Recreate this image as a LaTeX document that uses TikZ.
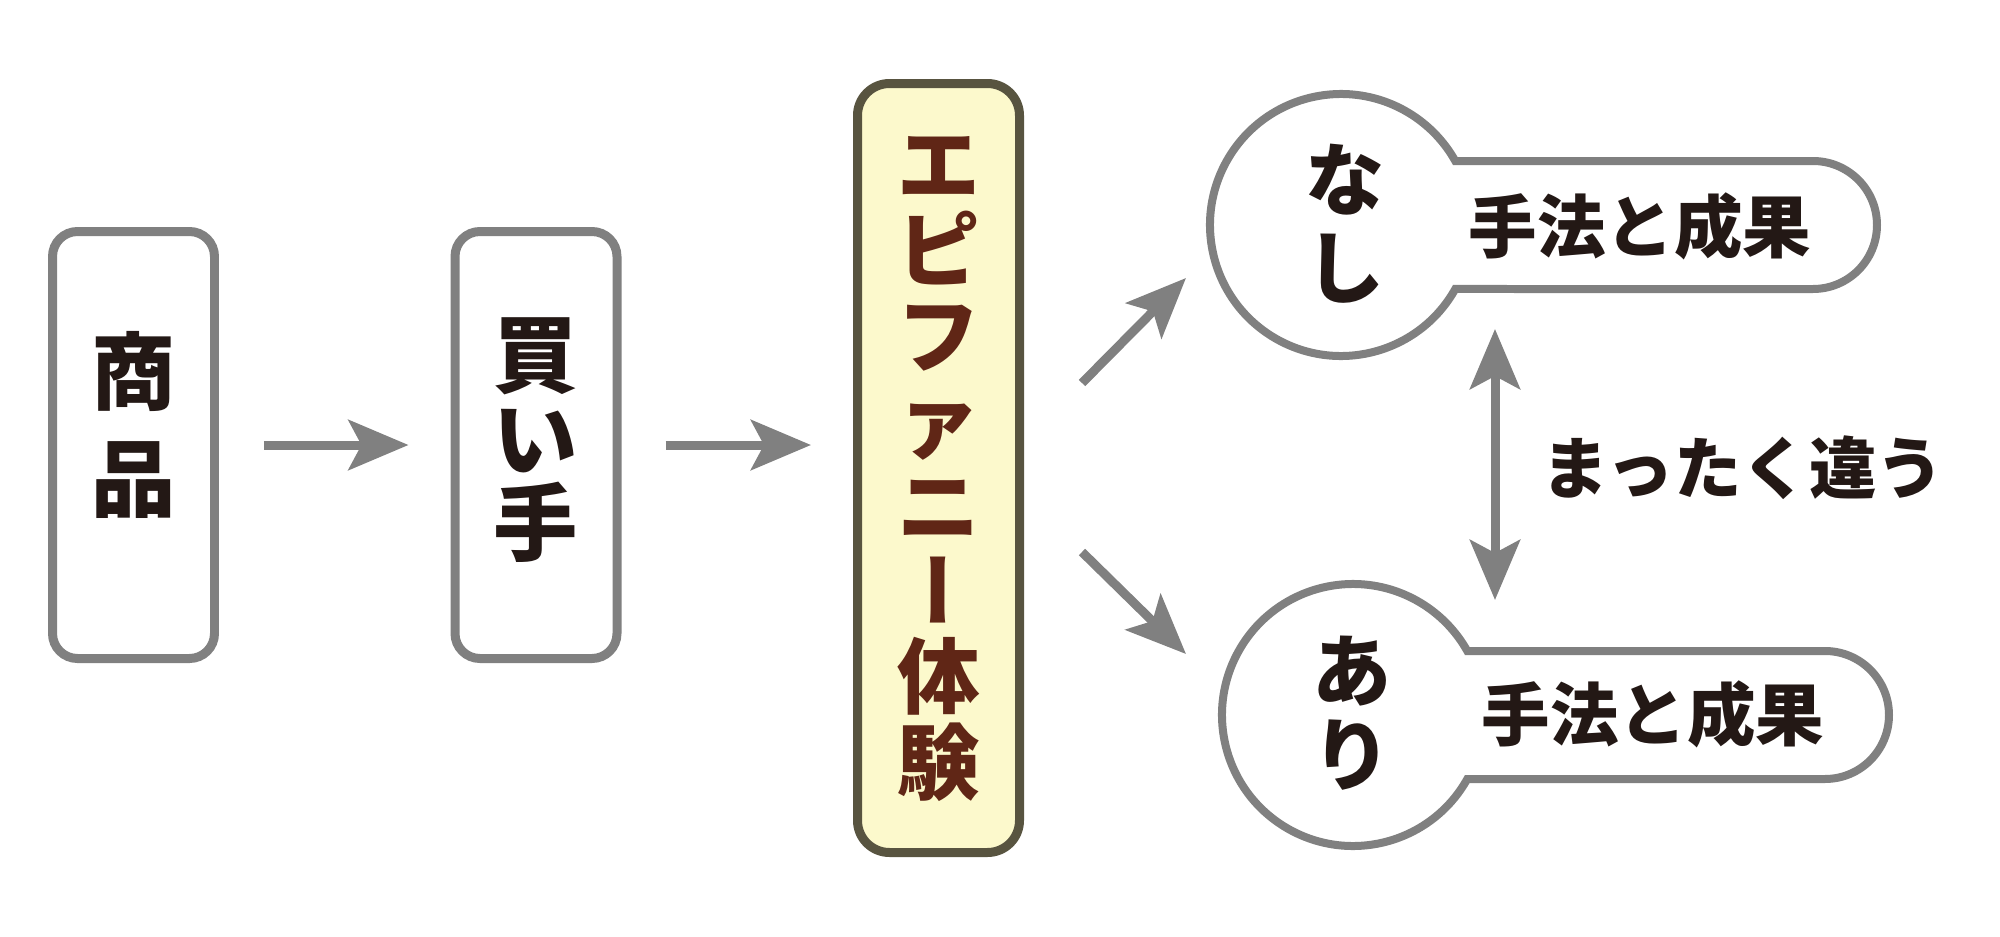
\documentclass[tikz,border=0pt]{standalone}
\usepackage{fontspec}
\newfontfamily\jpfont{Noto Sans CJK JP}
\newfontfamily\jpvfont[RawFeature=+vert]{Noto Sans CJK JP}
\usepackage{tikz}
\usetikzlibrary{arrows.meta, calc, positioning}
\definecolor{linegray}{RGB}{128,128,128}
\definecolor{inkblack}{RGB}{35,24,21}
\definecolor{epibrown}{RGB}{96,38,22}
\definecolor{epifill}{RGB}{252,249,204}
\definecolor{epiedge}{RGB}{88,84,64}

\tikzset{
	stage/.style={draw=linegray, line width=0.9mm, fill=white, rounded corners=2.5mm, minimum width=16.2mm, minimum height=42.7mm, inner sep=0pt},
	epibox/.style={stage, draw=epiedge, fill=epifill, rounded corners=3.2mm, minimum height=76.9mm},
	tate/.style={font=\jpfont\bfseries\fontsize{24pt}{24pt}\selectfont, text=inkblack, align=center, inner sep=0pt},
	yoko/.style={font=\jpfont\bfseries\fontsize{19.5pt}{19.5pt}\selectfont, text=inkblack, inner sep=0pt},
	flow/.style={draw=linegray, line width=0.9mm},
	keyline/.style={draw=linegray, line width=0.8mm, fill=white},
	ring/.style={circle, minimum size=26.2mm, inner sep=0pt}
}

\begin{document}
\begin{tikzpicture}[x=0.1mm, y=0.1mm, >={Stealth[length=6mm, width=5mm, inset=1.3mm]}]
	\useasboundingbox (0,0) rectangle (2000,936);
	
	\pgfmathsetmacro{\ringr}{131}
	\pgfmathsetmacro{\barh}{64}
	\pgfmathsetmacro{\barlen}{472}
	\pgfmathsetmacro{\cutang}{asin(\barh/\ringr)}
	
	\node[stage] (shohin) at (133.5,491) {};
	\node[stage] (kaite) at (536,491) {};
	\node[epibox] (epiphany) at (938.5,468) {};
	
	\node[tate, font=\jpfont\bfseries\fontsize{24pt}{30.4pt}\selectfont] (shohin-t) at (133.5,511) {商\\品};
	\node[tate] (kaite-t) at (536,496) {買\\い\\手};
	\node[tate, text=epibrown, font=\jpfont\bfseries\fontsize{23.5pt}{24.3pt}\selectfont] (epiphany-t) at (938.5,467) {エ\\ピ\\フ\\ァ\\ニ\\{\jpvfont ー}\\体\\験};
	
	\node[ring] (nashi) at (1341,711) {};
	\node[ring] (ari) at (1353,221) {};
	\draw[keyline] ([shift={(\cutang:\ringr)}]nashi.center) -- ([shift={(\barlen,\barh)}]nashi.center) arc[start angle=90, end angle=-90, radius=\barh] -- ([shift={(-\cutang:\ringr)}]nashi.center) arc[start angle=-\cutang, end angle=-360+\cutang, radius=\ringr] -- cycle;
	\draw[keyline] ([shift={(\cutang:\ringr)}]ari.center) -- ([shift={(\barlen,\barh)}]ari.center) arc[start angle=90, end angle=-90, radius=\barh] -- ([shift={(-\cutang:\ringr)}]ari.center) arc[start angle=-\cutang, end angle=-360+\cutang, radius=\ringr] -- cycle;
	
	\node[tate, font=\jpfont\bfseries\fontsize{22.5pt}{25pt}\selectfont] (nashi-t) at (1345,712) {な\\し};
	\node[yoko] (nashi-m) at (1640,710) {手法と成果};
	\node[tate, font=\jpfont\bfseries\fontsize{22.5pt}{24pt}\selectfont] (ari-t) at (1352,223) {あ\\り};
	\node[yoko] (ari-m) at (1653,222) {手法と成果};
	
	\node[yoko, font=\jpfont\bfseries\fontsize{19.2pt}{19.2pt}\selectfont] (chigau) at (1743,468) {まったく違う};
	
	\draw[flow, ->, shorten <=4.5mm, shorten >=4.2mm] (shohin) -- (kaite);
	\draw[flow, ->, shorten <=4.4mm, shorten >=4.2mm] (kaite.east) -- (kaite.east -| epiphany.west);
	\draw[flow, ->] ([shift={(58,85)}]epiphany.east) -- ([shift={(-155,-53)}]nashi.center);
	\draw[flow, ->] ([shift={(58,-84)}]epiphany.east) -- ([shift={(-167,61)}]ari.center);
	\draw[flow, <->] ([shift={(154,-104)}]nashi.center) -- ([shift={(142,115)}]ari.center);
\end{tikzpicture}
\end{document}
